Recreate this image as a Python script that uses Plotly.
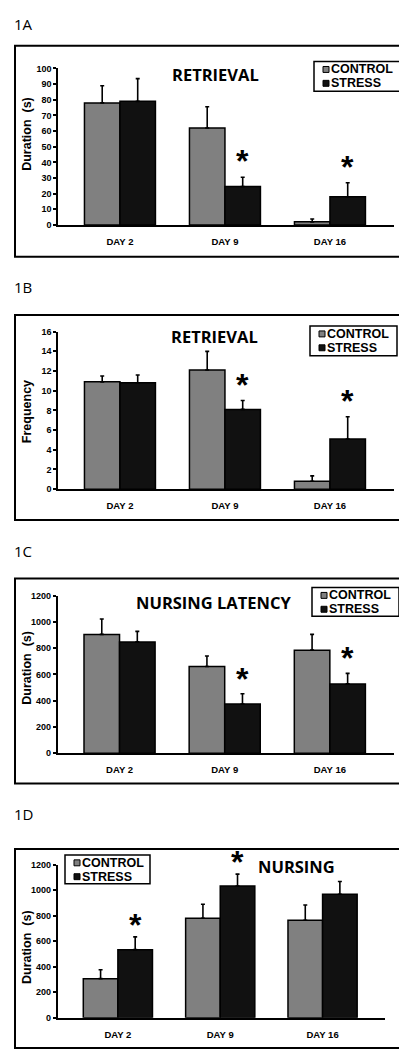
import plotly.graph_objects as go

W, H = 407, 1050

days = ["DAY 2", "DAY 9", "DAY 16"]
series_names = ["CONTROL", "STRESS"]

# 1A Retrieval duration (s)
ret_dur_control = [78, 62, 2]
ret_dur_control_err = [11, 13.5, 1.8]
ret_dur_stress = [79, 24.5, 18]
ret_dur_stress_err = [14.5, 6, 9]
ret_dur_sig = [False, True, True]

# 1B Retrieval frequency
ret_freq_control = [10.9, 12.1, 0.8]
ret_freq_control_err = [0.6, 1.9, 0.55]
ret_freq_stress = [10.8, 8.1, 5.1]
ret_freq_stress_err = [0.8, 0.9, 2.25]
ret_freq_sig = [False, True, True]

# 1C Nursing latency (s)
lat_control = [905, 660, 785]
lat_control_err = [118, 80, 120]
lat_stress = [848, 375, 528]
lat_stress_err = [80, 78, 80]
lat_sig = [False, True, True]

# 1D Nursing duration (s)
nur_control = [306, 780, 765]
nur_control_err = [70, 110, 120]
nur_stress = [534, 1034, 969]
nur_stress_err = [100, 93, 100]
nur_sig = [True, True, False]

panels = [
    dict(label="1A", title="RETRIEVAL", ytitle="Duration  (s)",
         ctrl=ret_dur_control, ctrl_err=ret_dur_control_err,
         stress=ret_dur_stress, stress_err=ret_dur_stress_err, sig=ret_dur_sig,
         ymax=100, dtick=10, star_shift=-4,
         frame=(7, 33, 401, 246), y0=214, ytop=56, xl=50, xr=386,
         title_xy=(207, 62), legend=(306, 49, 393, 79), label_y=11, ytitle_y=122),
    dict(label="1B", title="RETRIEVAL", ytitle="Frequency",
         ctrl=ret_freq_control, ctrl_err=ret_freq_control_err,
         stress=ret_freq_stress, stress_err=ret_freq_stress_err, sig=ret_freq_sig,
         ymax=16, dtick=2, star_shift=-4,
         frame=(7, 305, 401, 512), y0=480.7, ytop=321.7, xl=50, xr=386,
         title_xy=(206, 327), legend=(302, 316, 389, 346), label_y=277, ytitle_y=403),
    dict(label="1C", title="NURSING LATENCY", ytitle="Duration  (s)",
         ctrl=lat_control, ctrl_err=lat_control_err,
         stress=lat_stress, stress_err=lat_stress_err, sig=lat_sig,
         ymax=1200, dtick=200, star_shift=-5,
         frame=(7, 571, 401, 778), y0=747.3, ytop=588.3, xl=49.5, xr=386,
         title_xy=(205, 595), legend=(304, 580, 391, 609), label_y=543, ytitle_y=661),
    dict(label="1D", title="NURSING", ytitle="Duration  (s)",
         ctrl=nur_control, ctrl_err=nur_control_err,
         stress=nur_stress, stress_err=nur_stress_err, sig=nur_sig,
         ymax=1200, dtick=200, star_shift=-8,
         frame=(7, 844, 396, 1045), y0=1014.3, ytop=860, xl=49.5, xr=377,
         title_xy=(288, 862), legend=(57, 850, 142, 879), label_y=809, ytitle_y=943),
]

def px(x):
    return x / W

def py(y):
    return 1 - y / H

GRAY = "#808080"
BLACK = "#111111"
ARIAL = "Liberation Sans, Arial, sans-serif"
CAL = "Open Sans, Lato, sans-serif"

fig = go.Figure()
shapes = []
annotations = []
half = 0.169

for i, p in enumerate(panels):
    n = "" if i == 0 else str(i + 1)
    xa, ya = "x" + n, "y" + n
    for name, vals, errs, color in [
        ("CONTROL", p["ctrl"], p["ctrl_err"], GRAY),
        ("STRESS", p["stress"], p["stress_err"], BLACK),
    ]:
        fig.add_trace(go.Bar(
            x=[0, 1, 2], y=vals, name=name, xaxis=xa, yaxis=ya,
            marker=dict(color=color, line=dict(color="black", width=1.5)),
            error_y=dict(type="data", array=errs, arrayminus=[0] * len(errs),
                         symmetric=False, color="black", thickness=1.6, width=2),
            showlegend=False, offsetgroup=name,
        ))
    xkey = "xaxis" + n
    ykey = "yaxis" + n
    fig.layout[xkey] = dict(
        domain=[px(p["xl"]), px(p["xr"])], range=[-0.59, 2.61], anchor=ya,
        tickmode="array", tickvals=[0, 1, 2], ticktext=days,
        showline=True, linecolor="black", linewidth=1.5, ticks="",
        showgrid=False, zeroline=False, ticklabelstandoff=7,
        tickfont=dict(family=ARIAL, size=9.5, color="black", weight="bold"),
    )
    fig.layout[ykey] = dict(
        domain=[py(p["y0"]), py(p["ytop"])], range=[0, p["ymax"]], anchor=xa,
        tickmode="linear", tick0=0, dtick=p["dtick"],
        showline=True, linecolor="black", linewidth=1.5,
        ticks="outside", ticklen=3, tickwidth=1.5, tickcolor="black",
        showgrid=False, zeroline=False,
        tickfont=dict(family=ARIAL, size=9, color="black", weight="bold"),
    )
    # frame
    fx0, fy0, fx1, fy1 = p["frame"]
    shapes.append(dict(type="rect", xref="paper", yref="paper",
                       x0=px(fx0), x1=px(fx1), y0=py(fy1), y1=py(fy0),
                       line=dict(color="black", width=2), fillcolor="rgba(0,0,0,0)"))
    # panel label
    annotations.append(dict(text=p["label"], xref="paper", yref="paper",
                            x=px(4), y=py(p["label_y"]), xanchor="left", yanchor="middle",
                            showarrow=False, font=dict(family=CAL, size=15, color="black")))
    # title
    tx, ty = p["title_xy"]
    annotations.append(dict(text=p["title"], xref="paper", yref="paper",
                            x=px(tx), y=py(ty), xanchor="center", yanchor="middle",
                            showarrow=False,
                            font=dict(family=CAL, size=16.5, color="black", weight="bold")))
    # y title
    annotations.append(dict(text=p["ytitle"], xref="paper", yref="paper",
                            x=px(19), y=py(p["ytitle_y"]), xanchor="center", yanchor="middle",
                            textangle=-90, showarrow=False,
                            font=dict(family=ARIAL, size=12.5, color="black", weight="bold")))
    # legend
    lx0, ly0, lx1, ly1 = p["legend"]
    shapes.append(dict(type="rect", xref="paper", yref="paper",
                       x0=px(lx0), x1=px(lx1), y0=py(ly1), y1=py(ly0),
                       line=dict(color="black", width=1.5), fillcolor="white"))
    rows = [(ly0 + 8, GRAY, series_names[0]), (ly0 + 22, BLACK, series_names[1])]
    for cy, col, txt in rows:
        shapes.append(dict(type="rect", xref="paper", yref="paper",
                           x0=px(lx0 + 9), x1=px(lx0 + 15), y0=py(cy + 3), y1=py(cy - 3),
                           line=dict(color="black", width=1), fillcolor=col))
        annotations.append(dict(text=txt, xref="paper", yref="paper",
                                x=px(lx0 + 15), y=py(cy), xanchor="left", yanchor="middle",
                                showarrow=False,
                                font=dict(family=ARIAL, size=12.5, color="black", weight="bold")))
    # significance asterisks
    for k, s in enumerate(p["sig"]):
        if s:
            annotations.append(dict(text="*", xref=xa, yref=ya,
                                    x=k + half, y=p["stress"][k] + p["stress_err"][k],
                                    xanchor="center", yanchor="bottom", yshift=p["star_shift"],
                                    showarrow=False,
                                    font=dict(family=ARIAL, size=32, color="black", weight="bold")))

fig.update_layout(
    width=W, height=H, margin=dict(l=0, r=0, t=0, b=0),
    paper_bgcolor="white", plot_bgcolor="white",
    barmode="group", bargap=0.324, bargroupgap=0,
    shapes=shapes, annotations=annotations, showlegend=False,
)

fig.write_html("out.html")
